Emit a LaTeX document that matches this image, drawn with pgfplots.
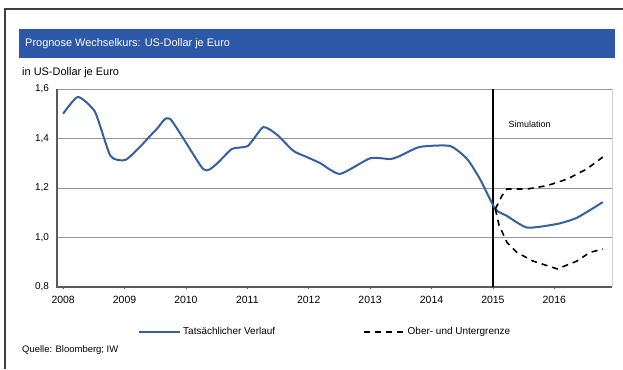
\documentclass[border=0pt]{standalone}
\usepackage{pgfplots}
\pgfplotsset{compat=1.18}
\usepackage{fontspec}
\setmainfont{Liberation Sans}
\definecolor{titleblue}{RGB}{45,88,168}
\definecolor{lineblue}{RGB}{52,96,160}
\definecolor{gridgray}{RGB}{150,150,150}
\definecolor{axgray}{RGB}{90,90,90}
\begin{document}
\begin{tikzpicture}[x=1bp,y=1bp]
\useasboundingbox (0,0) rectangle (623,369);
\draw[line width=1.2bp, black!75] (5,0) -- (5,360) -- (623,360);
\fill[titleblue] (19,311) rectangle (615,340);
\node[anchor=west, text=white, font=\fontsize{11}{13}\selectfont, inner sep=0pt] at (25,325.5) {Prognose Wechselkurs: US-Dollar je Euro};
\node[anchor=west, font=\fontsize{11}{13}\selectfont, inner sep=0pt] at (22,296) {in US-Dollar je Euro};
\node[anchor=west, font=\fontsize{9.5}{11}\selectfont, inner sep=0pt] at (22,19) {Quelle: Bloomberg; IW};
\begin{axis}[
  at={(57bp,82bp)}, anchor=south west,
  width=555bp, height=198bp, scale only axis,
  xmin=2007.9, xmax=2016.94, ymin=0.8, ymax=1.6,
  axis x line*=bottom, axis y line*=left,
  axis line style={axgray, line width=1.2bp, -},
  xtick={2008,2009,2010,2011,2012,2013,2014,2015,2016},
  ytick={0.8,1.0,1.2,1.4,1.6},
  x tick label style={/pgf/number format/1000 sep={}, font=\fontsize{10.5}{12}\selectfont, yshift=-4bp},
  y tick label style={/pgf/number format/.cd, fixed, fixed zerofill, precision=1, use comma, /tikz/.cd, font=\fontsize{10}{12}\selectfont, xshift=-3bp},
  /pgf/number format/assume math mode=true,
  tick style={axgray, line width=0.8bp},
  major tick length=3bp,
  tick align=center,
  ymajorgrids, grid style={gridgray, line width=0.8bp},
  clip=false,
  legend style={at={(0.146,-0.227)}, anchor=west, draw=none, fill=none,
    font=\fontsize{10}{12}\selectfont, legend columns=2,
    /tikz/every even column/.append style={column sep=86bp},
    inner sep=0pt, row sep=0pt},
  legend cell align=left,
  legend image code/.code={\draw[#1] (0bp,0bp) -- (41bp,0bp);},
]
\draw[gray!35, line width=0.8bp] (rel axis cs:1,0) -- (rel axis cs:1,1);
\draw[black, line width=1.2bp] (axis cs:2015,0.8) -- (axis cs:2015,1.6);
\addplot[lineblue, line width=2bp, line join=round, smooth, tension=0.35] coordinates {
(2008.00,1.500) (2008.24,1.568) (2008.52,1.507) (2008.77,1.330) (2009.01,1.313)
(2009.25,1.366) (2009.53,1.440) (2009.74,1.480) (2010.28,1.277) (2010.48,1.293)
(2010.75,1.358) (2011.01,1.370) (2011.26,1.446) (2011.49,1.414) (2011.75,1.350)
(2011.97,1.325) (2012.19,1.300) (2012.51,1.257) (2013.00,1.320) (2013.33,1.317)
(2013.49,1.330) (2013.81,1.366) (2014.30,1.370) (2014.58,1.317) (2014.79,1.236)
(2015.04,1.115) (2015.23,1.087) (2015.56,1.040) (2016.05,1.055) (2016.37,1.080)
(2016.79,1.143)};
\addlegendentry{Tatsächlicher Verlauf}
\addplot[black, line width=1.6bp, dash pattern=on 6bp off 5bp] coordinates {
(2015.04,1.115) (2015.15,1.170) (2015.23,1.196) (2015.56,1.196) (2015.89,1.210)
(2016.21,1.236) (2016.53,1.277) (2016.79,1.325)};
\addlegendentry{Ober- und Untergrenze}
\addplot[black, line width=1.6bp, dash pattern=on 6bp off 5bp, forget plot] coordinates {
(2015.04,1.115) (2015.10,1.050) (2015.23,0.980) (2015.39,0.940) (2015.65,0.905)
(2016.05,0.873) (2016.37,0.905) (2016.58,0.940) (2016.79,0.953)};
\node[anchor=west, font=\fontsize{9}{11}\selectfont] at (axis cs:2015.2,1.459) {Simulation};
\end{axis}
\end{tikzpicture}
\end{document}
